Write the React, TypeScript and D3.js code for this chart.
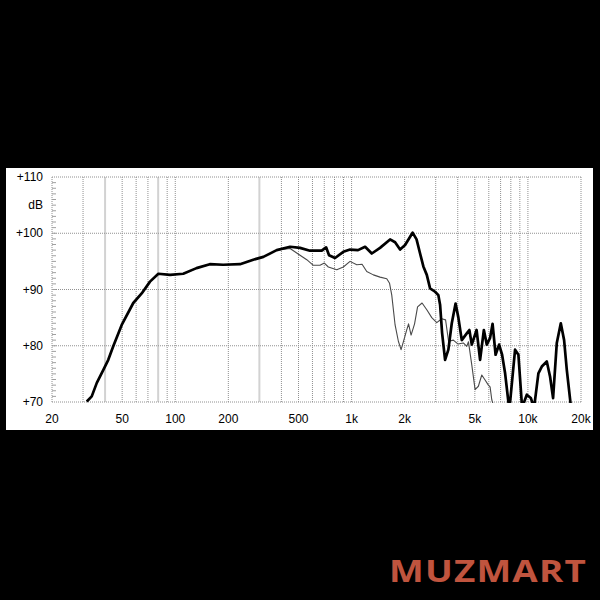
import React from "react";
import * as d3 from "d3";

// Frequency response, thick (on-axis) curve
const thickFreq = [31.5, 33.6, 35.9, 39.1, 41.7, 44.5, 49.7, 57.8, 64.5, 71.9, 80.2, 93.4, 111, 132, 157, 187, 233, 277, 316, 376, 448, 510, 581, 677, 717, 745, 806, 898, 980, 1088, 1193, 1302, 1450, 1653, 1765, 1884, 2011, 2218, 2336, 2446, 2553, 2670, 2787, 2975, 3105, 3176, 3260, 3390, 3539, 3700, 3888, 4033, 4216, 4500, 4656, 4804, 5116, 5355, 5626, 5845, 6102, 6304, 6556, 6864, 7138, 7424, 7751, 7870, 8456, 8831, 9268, 9855, 10383, 10840, 11466, 11988, 12794, 13357, 13890, 14580, 15363, 16040, 16615, 17458];
const thickDb = [70.1, 71.0, 73.4, 75.7, 77.5, 79.9, 83.7, 87.6, 89.3, 91.4, 92.8, 92.6, 92.8, 93.8, 94.5, 94.4, 94.5, 95.3, 95.8, 97.0, 97.6, 97.4, 96.9, 96.9, 97.5, 96.1, 95.6, 96.7, 97.1, 97.0, 97.6, 96.4, 97.4, 98.9, 98.4, 97.1, 97.9, 100.1, 98.9, 96.4, 94.1, 92.6, 90.2, 89.6, 89.0, 87.3, 82.3, 77.5, 79.3, 84.0, 87.5, 85.0, 81.0, 82.2, 82.8, 80.2, 82.8, 77.5, 82.8, 80.2, 81.4, 83.9, 78.4, 80.2, 78.4, 75.1, 70.0, 69.0, 79.3, 78.4, 69.0, 71.3, 70.7, 69.0, 75.1, 76.3, 77.2, 74.5, 70.7, 80.5, 84.0, 81.0, 75.7, 69.7];

// Thin (off-axis) curve
const thinFreq = [31.5, 33.6, 35.9, 39.1, 41.7, 44.5, 49.7, 57.8, 64.5, 71.9, 80.2, 93.4, 111, 132, 157, 187, 233, 277, 316, 376, 448, 510, 557, 607, 662, 701, 738, 824, 898, 980, 1070, 1147, 1219, 1329, 1450, 1583, 1642, 1690, 1765, 1842, 1908, 1966, 2045, 2104, 2175, 2276, 2367, 2510, 2670, 2849, 3041, 3247, 3412, 3548, 3777, 4017, 4304, 4500, 4602, 4804, 5017, 5236, 5474, 5715, 5967, 6102, 6239, 6387];
const thinDb = [70.1, 71.0, 73.4, 75.7, 77.5, 79.9, 83.7, 87.6, 89.3, 91.4, 92.8, 92.6, 92.8, 93.8, 94.5, 94.4, 94.5, 95.3, 95.8, 97.0, 97.3, 96.1, 95.3, 94.3, 94.3, 94.7, 94.0, 93.5, 94.0, 95.0, 94.4, 94.5, 93.2, 92.6, 92.2, 91.9, 91.1, 89.0, 83.7, 80.8, 79.3, 80.7, 82.6, 83.9, 81.9, 83.9, 86.9, 87.6, 86.4, 85.0, 84.1, 84.8, 84.6, 80.8, 81.0, 80.3, 80.5, 79.9, 80.7, 76.6, 72.2, 72.8, 74.8, 73.9, 73.0, 72.7, 70.4, 69.3];

const yTicks = [70, 80, 90, 100, 110];
const yTickLabels = ["+70", "+80", "+90", "+100", "+110"];
const xTicks = [20, 50, 100, 200, 500, 1000, 2000, 5000, 10000, 20000];
const xTickLabels = ["20", "50", "100", "200", "500", "1k", "2k", "5k", "10k", "20k"];
const gridFreqs = [30, 40, 50, 60, 70, 80, 90, 100, 200, 300, 400, 500, 600, 700, 800, 900, 1000, 2000, 3000, 4000, 5000, 6000, 7000, 8000, 9000, 10000];
const strongGrid = [40, 80, 300];

export default function App() {
  const W = 600, H = 600;
  const left = 52, right = 581, top = 177, bottom = 402;
  const x = d3.scaleLog().domain([20, 20000]).range([left, right]);
  const y = d3.scaleLinear().domain([70, 110]).range([bottom, top]);
  const line = d3.line<[number, number]>().x(d => x(d[0])).y(d => y(d[1]));
  const thick = line(thickFreq.map((f, i) => [f, thickDb[i]]) as [number, number][]) || "";
  const thin = line(thinFreq.map((f, i) => [f, thinDb[i]]) as [number, number][]) || "";
  const minor = d3.range(71, 110);
  const font = "'Liberation Sans', Arial, sans-serif";

  return (
    <svg width={W} height={H} style={{ position: "absolute", left: 0, top: 0 }}>
      <rect x={0} y={0} width={W} height={H} fill="#000" />
      <rect x={6} y={168} width={587} height={262} fill="#fff" />
      <defs>
        <clipPath id="plot">
          <rect x={left} y={top} width={right - left} height={bottom - top + 1} />
        </clipPath>
      </defs>
      {gridFreqs.map(f =>
        strongGrid.includes(f) ? (
          <line key={f} x1={x(f)} x2={x(f)} y1={top} y2={bottom} stroke="#d2d2d2" strokeWidth={2} />
        ) : (
          <line key={f} x1={x(f)} x2={x(f)} y1={top} y2={bottom} stroke="#909090" strokeWidth={1} strokeDasharray="1,1" />
        )
      )}
      {yTicks.map(v => (
        <line key={v} x1={left} x2={right} y1={y(v)} y2={y(v)} stroke="#909090" strokeWidth={1} strokeDasharray="1,1" />
      ))}
      <line x1={left} x2={left} y1={top} y2={bottom} stroke="#909090" strokeDasharray="1,1" />
      <line x1={right} x2={right} y1={top} y2={bottom} stroke="#909090" strokeDasharray="1,1" />
      {minor.map(v => (
        <line key={v} x1={left} x2={left + 4} y1={y(v)} y2={y(v)} stroke="#a0a0a0" strokeWidth={1} />
      ))}
      <g clipPath="url(#plot)">
        <path d={thin} fill="none" stroke="#4a4a4a" strokeWidth={1.1} strokeLinejoin="round" />
        <path d={thick} fill="none" stroke="#000" strokeWidth={2.7} strokeLinejoin="round" />
      </g>
      {yTicks.map((v, i) => (
        <text key={v} x={43} y={y(v)} dy="0.35em" textAnchor="end" fontSize={12} fontFamily={font} fill="#000">
          {yTickLabels[i]}
        </text>
      ))}
      <text x={43} y={205} dy="0.35em" textAnchor="end" fontSize={12} fontFamily={font} fill="#000">dB</text>
      {xTicks.map((f, i) => (
        <text key={f} x={x(f)} y={419} dy="0.35em" textAnchor="middle" fontSize={12} fontFamily={font} fill="#000">
          {xTickLabels[i]}
        </text>
      ))}
      <text x={389} y={582} fontSize={31} fontWeight={700} fontFamily="'Open Sans', 'Noto Sans', sans-serif" fill="#c0543e" textLength={198} lengthAdjust="spacingAndGlyphs" letterSpacing={1}>
        MUZMART
      </text>
    </svg>
  );
}
